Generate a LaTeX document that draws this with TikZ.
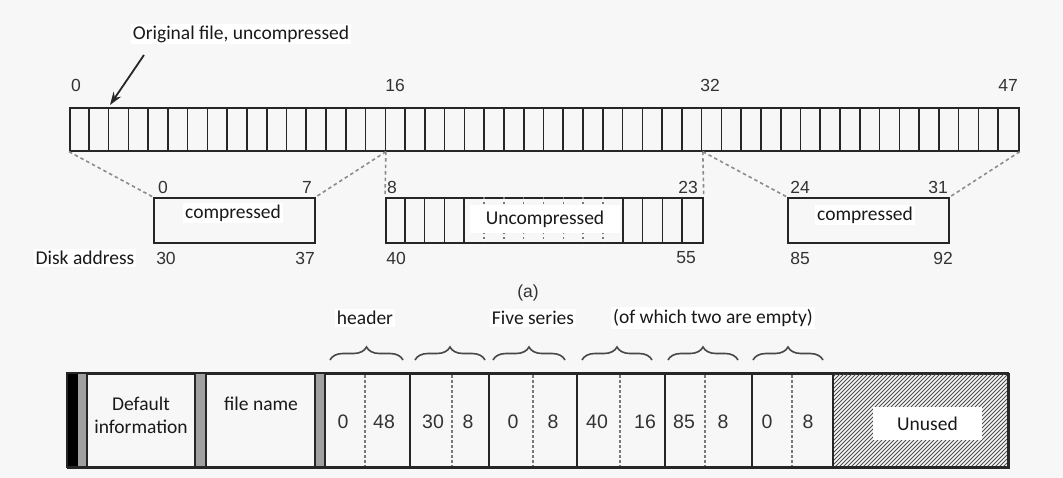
\documentclass[tikz,border=0pt]{standalone}
\usepackage{fontspec}
\newfontfamily\lab{Carlito}
\newfontfamily\num{Liberation Sans}
\usetikzlibrary{decorations.pathreplacing,arrows.meta,calc}
\definecolor{ink}{HTML}{262626}
\definecolor{numc}{HTML}{333333}
\definecolor{bg}{HTML}{F7F7F7}
\definecolor{bar}{HTML}{A0A0A0}
\begin{document}
\begin{tikzpicture}[x=1pt,y=-1pt,
  lbl/.style={font=\lab\fontsize{19.5}{23}\selectfont, text=black!90, inner sep=2pt, fill=white},
  numt/.style={font=\num\fontsize{17.5}{20}\selectfont, text=numc, inner sep=0pt},
  numb/.style={font=\num\fontsize{19.5}{22}\selectfont, text=numc, inner sep=0pt},
  boxed/.style={draw=ink, line width=1.7pt, inner sep=0pt, anchor=north west},
  sepline/.style={draw=ink, line width=1.6pt},
  dotsep/.style={draw=gray!95!black, line width=1.4pt, dash pattern=on 2.5pt off 2.5pt},
  conn/.style={draw=gray!90, line width=1.6pt, dash pattern=on 3.5pt off 3pt},
  brc/.style={draw=ink!85, line width=1.6pt, decorate, decoration={brace, amplitude=13pt}}
]
\fill[bg] (0,0) rectangle (1063,478);
\useasboundingbox (0,0) rectangle (1063,478);

% ---------- top strip ----------
\node[lbl] (orig) at (241,34) {Original file, uncompressed};
\node[boxed, minimum width=949pt, minimum height=43pt] (strip) at (69,107) {};
\foreach \k in {1,...,47}
  \draw[sepline] ({69+\k*19.7708},107) -- ++(0,43);
\node[numt] (n0) at (76,85) {0};
\node[numt] (n16) at (395,85) {16};
\node[numt] (n32) at (710,85) {32};
\node[numt] (n47) at (1008,85) {47};

\coordinate (atail) at (144,55);
\coordinate (ahead) at (110,105);
\draw[ink, line width=1.8pt, -{Stealth[length=13pt,width=9pt]}] (atail) -- (ahead);

\coordinate (c0) at (strip.south west);
\coordinate (c16) at ($(strip.south west)!1/3!(strip.south east)$);
\coordinate (c32) at ($(strip.south west)!2/3!(strip.south east)$);
\coordinate (c48) at (strip.south east);

% ---------- extents ----------
\node[boxed, minimum width=161pt, minimum height=45pt] (b1) at (153,197) {};
\node[boxed, minimum width=317pt, minimum height=45pt] (b2) at (385,197) {};
\node[boxed, minimum width=161pt, minimum height=45pt] (b3) at (787,197) {};

\foreach \k in {1,2,3,4,12,13,14,15}
  \draw[sepline] ({385+\k*19.8125},197) -- ++(0,45);
\foreach \k in {5,...,11}
  \draw[dotsep] ({385+\k*19.8125},197) -- ++(0,45);

\node[lbl, minimum width=150pt, minimum height=28pt] (unc) at (545,219.5) {Uncompressed};
\node[lbl] (cmp1) at (233,213) {compressed};
\node[lbl] (cmp3) at (865,215) {compressed};

\draw[conn] (c0) -- (b1.north west);
\draw[conn] (c16) -- (b1.north east);
\draw[conn] (c16) -- (b2.north west);
\draw[conn] (c32) -- (b2.north east);
\draw[conn] (c32) -- (b3.north west);
\draw[conn] (c48) -- (b3.north east);

\node[numt] (l0) at (163,187) {0};
\node[numt] (l7) at (307,187) {7};
\node[numt] (l8) at (392,187) {8};
\node[numt] (l23) at (688,187) {23};
\node[numt] (l24) at (800,187) {24};
\node[numt] (l31) at (938,187) {31};
\node[numt] (d30) at (166,258) {30};
\node[numt] (d37) at (305,258) {37};
\node[numt] (d40) at (396,258) {40};
\node[numt] (d55) at (686,258) {55};
\node[numt] (d85) at (800,258) {85};
\node[numt] (d92) at (943,258) {92};
\node[lbl] (disk) at (85,258) {Disk address};
\node[numt] (cap) at (528,293) {(a)};

% ---------- bottom strip ----------
\node[boxed, minimum width=941pt, minimum height=94pt] (bs) at (67,373) {};
\fill[black] (67,373) rectangle (78,467);
\fill[bar] (78,373) rectangle (87,467);
\fill[bar] (195,373) rectangle (206,467);
\fill[bar] (315,373) rectangle (325,467);
\begin{scope}
  \clip (833,373) rectangle (1008,467);
  \foreach \i in {0,...,68}
    \draw[gray!60!black, line width=0.9pt] ({739+\i*4},467) -- ++(94,-94);
\end{scope}
\draw[boxed] (67,373) rectangle (1008,467);
\foreach \xx in {87,195,206,315,325,410,489,577,665,752,833}
  \draw[sepline, line width=1.8pt] (\xx,373) -- (\xx,467);
\foreach \xx in {365,452,533,620,705,792}
  \draw[dotsep] (\xx,375) -- (\xx,466);

\node[lbl, fill=none, align=center, inner sep=0pt] (definfo) at (141,415) {Default\\information};
\node[lbl, fill=none] (fname) at (261,404) {file name};
\node[lbl, minimum width=109pt, minimum height=33pt] (unused) at (927.5,423.5) {Unused};

\node[numb] (e1) at (343,422) {0};
\node[numb] (e2) at (384,422) {48};
\node[numb] (e3) at (433,422) {30};
\node[numb] (e4) at (468,422) {8};
\node[numb] (e5) at (513,422) {0};
\node[numb] (e6) at (553,422) {8};
\node[numb] (e7) at (597,422) {40};
\node[numb] (e8) at (645,422) {16};
\node[numb] (e9) at (684,422) {85};
\node[numb] (e10) at (723,422) {8};
\node[numb] (e11) at (767,422) {0};
\node[numb] (e12) at (808,422) {8};

\draw[brc] (330,360) -- (403,360);
\draw[brc] (415,360) -- (485,360);
\draw[brc] (493,360) -- (565,360);
\draw[brc] (582,360) -- (652,360);
\draw[brc] (668,360) -- (738,360);
\draw[brc] (753,360) -- (823,360);

\node[lbl] (hdr) at (365,318) {header};
\node[lbl] (five) at (533,318) {Five series};
\node[lbl] (empty) at (713,318) {(of which two are empty)};
\end{tikzpicture}
\end{document}
